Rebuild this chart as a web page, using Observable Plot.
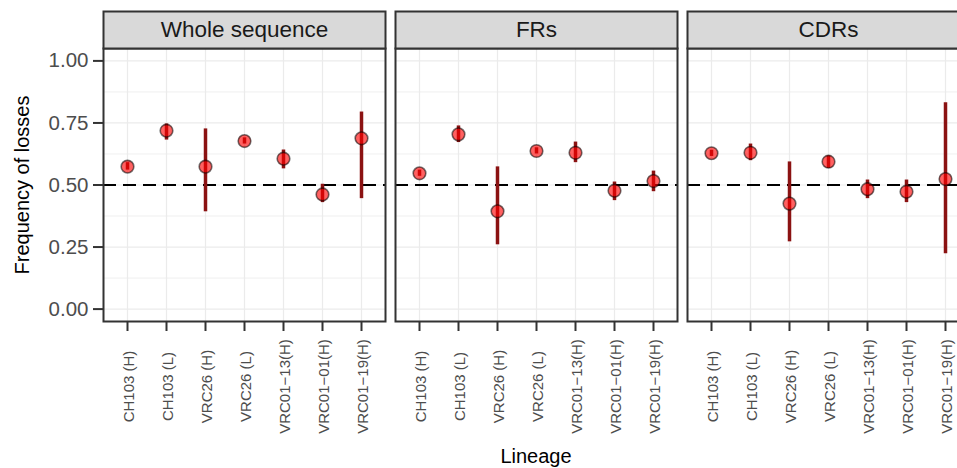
<!DOCTYPE html>
<html>
<head>
<meta charset="utf-8">
<script src="https://cdn.jsdelivr.net/npm/d3@7"></script>
<script src="https://cdn.jsdelivr.net/npm/@observablehq/plot@0.6"></script>
<style>
  html, body { margin: 0; padding: 0; background: #fff; }
  #wrap { position: relative; width: 957px; height: 468px; overflow: hidden; font-family: "Liberation Sans", Arial, Helvetica, sans-serif; }
  #wrap svg { position: absolute; left: 0; top: 0; max-width: none !important; font-family: "Liberation Sans", Arial, Helvetica, sans-serif; }
  .ytitle { position: absolute; left: 22px; top: 185px; transform: translate(-50%, -50%) rotate(-90deg); font-size: 20px; white-space: nowrap; color: #000; }
  .xtitle { position: absolute; left: 536px; top: 456px; transform: translate(-50%, -50%); font-size: 20px; white-space: nowrap; color: #000; }
</style>
</head>
<body>
<div id="wrap">
  <div class="ytitle">Frequency of losses</div>
  <div class="xtitle">Lineage</div>
</div>
<script>
const facets = ["Whole sequence", "FRs", "CDRs"];
const lineages = ["CH103 (H)", "CH103 (L)", "VRC26 (H)", "VRC26 (L)", "VRC01-13(H)", "VRC01-01(H)", "VRC01-19(H)"];

const wholeFreq = [0.574, 0.719, 0.574, 0.677, 0.606, 0.462, 0.688];
const wholeLow  = [0.560, 0.681, 0.392, 0.665, 0.565, 0.429, 0.445];
const wholeHigh = [0.590, 0.746, 0.726, 0.690, 0.641, 0.503, 0.794];

const frFreq = [0.547, 0.704, 0.394, 0.637, 0.630, 0.477, 0.516];
const frLow  = [0.535, 0.671, 0.259, 0.625, 0.590, 0.437, 0.473];
const frHigh = [0.560, 0.738, 0.573, 0.650, 0.673, 0.512, 0.556];

const cdrFreq = [0.628, 0.630, 0.425, 0.594, 0.483, 0.473, 0.524];
const cdrLow  = [0.615, 0.598, 0.271, 0.567, 0.445, 0.429, 0.223];
const cdrHigh = [0.640, 0.665, 0.593, 0.617, 0.520, 0.520, 0.831];

const yTicks = [0, 0.25, 0.5, 0.75, 1];
const yMinorTicks = [0.125, 0.375, 0.625, 0.875];
const refLine = [0.5];

const series = [
  [wholeFreq, wholeLow, wholeHigh],
  [frFreq, frLow, frHigh],
  [cdrFreq, cdrLow, cdrHigh]
];
const rows = [];
facets.forEach((f, i) => {
  const [v, lo, hi] = series[i];
  lineages.forEach((l, j) => rows.push({facet: f, lineage: l, value: v[j], lo: lo[j], hi: hi[j]}));
});

const plot = Plot.plot({
  width: 970,
  height: 468,
  marginLeft: 103,
  marginRight: 0,
  marginTop: 48,
  marginBottom: 147,
  style: {background: "transparent", maxWidth: "none", fontFamily: "Liberation Sans, Arial, Helvetica, sans-serif"},
  fx: {domain: facets, paddingInner: 0.0342, paddingOuter: 0, axis: null, label: null},
  x: {type: "point", domain: lineages, padding: 0.6, label: null},
  y: {domain: [-0.05, 1.05], label: null},
  marks: [
    Plot.gridY(yMinorTicks, {stroke: "#ebebeb", strokeOpacity: 1, strokeWidth: 0.8}),
    Plot.gridY(yTicks, {stroke: "#ebebeb", strokeOpacity: 1, strokeWidth: 1.2}),
    Plot.gridX(lineages, {stroke: "#ebebeb", strokeOpacity: 1, strokeWidth: 1.2}),
    Plot.ruleY(refLine, {stroke: "#000", strokeWidth: 2, strokeDasharray: "13,7"}),
    Plot.ruleX(rows, {fx: "facet", x: "lineage", y1: "lo", y2: "hi", stroke: "#8b1212", strokeWidth: 3.5}),
    Plot.dot(rows, {fx: "facet", x: "lineage", y: "value", r: 6.3, fill: "#ff0000", fillOpacity: 0.62, stroke: "#000", strokeOpacity: 0.55, strokeWidth: 1.6}),
    Plot.frame({stroke: "#333", strokeWidth: 2}),
    Plot.frame({fill: "#d9d9d9", stroke: "#333", strokeWidth: 2, insetTop: -37, insetBottom: 273}),
    Plot.text(facets, {fx: d => d, text: d => d, frameAnchor: "top", lineAnchor: "middle", dy: -18.5, fontSize: 22.5, fill: "#1a1a1a"}),
    Plot.axisY(yTicks, {anchor: "left", tickFormat: d3.format(".2f"), tickSize: 10, tickPadding: 5, fontSize: 20.5, stroke: "#333", strokeWidth: 2, fill: "#4d4d4d", label: null}),
    Plot.axisX(lineages, {anchor: "bottom", tickSize: 10, stroke: "#333", strokeWidth: 2, tickFormat: () => "", label: null}),
    Plot.text(rows, {fx: "facet", x: "lineage", text: d => d.lineage.replace(/-/g, "\u2212"), frameAnchor: "bottom", lineAnchor: "middle", dy: 65, dx: 1.5, rotate: -90, fontSize: 15, fill: "#4d4d4d"})
  ]
});
document.getElementById("wrap").appendChild(plot);
</script>
</body>
</html>
